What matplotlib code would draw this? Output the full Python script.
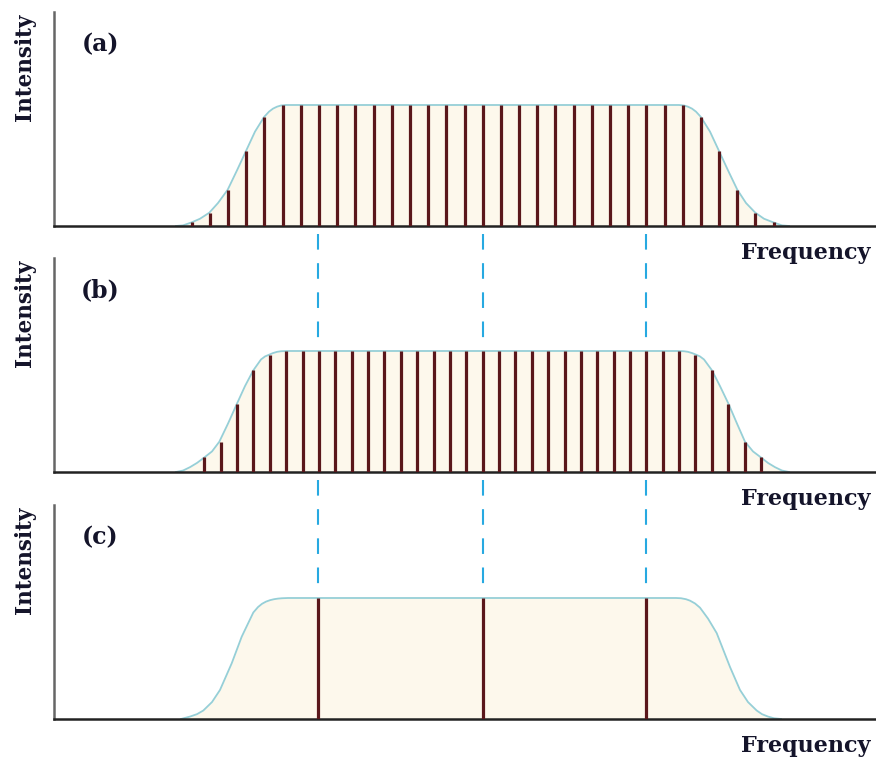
import numpy as np
import matplotlib
matplotlib.use("Agg")
import matplotlib.pyplot as plt

# frequency axis in reference pixel units, intensity normalised to the flat top
x_min, x_max = 54, 876

# (a) comb: 33 lines
comb_a_x = [191.7, 209.9, 228.1, 246.3, 264.4, 282.6, 300.8, 319.0, 337.2, 355.4, 373.5,
            391.7, 409.9, 428.1, 446.3, 464.5, 482.6, 500.8, 519.0, 537.2, 555.4, 573.5,
            591.7, 609.9, 628.1, 646.3, 664.5, 682.6, 700.8, 719.0, 737.2, 755.4, 773.5]
comb_a_h = [0.03, 0.11, 0.30, 0.62, 0.90] + [1.0] * 23 + [0.90, 0.62, 0.30, 0.11, 0.03]
env_a_x = [176, 183, 191.7, 200, 209.3, 218, 227.7, 237, 246, 255, 264, 269, 273, 277, 281, 286,
           679, 684, 688, 692, 696, 701, 710, 719, 728, 737.3, 746, 755.3, 764, 773.3, 782, 789]
env_a_y = [0.0, 0.005, 0.03, 0.06, 0.11, 0.19, 0.30, 0.46, 0.62, 0.78, 0.90, 0.945, 0.97, 0.986, 0.996, 1.0,
           1.0, 0.996, 0.986, 0.97, 0.945, 0.90, 0.78, 0.62, 0.46, 0.30, 0.19, 0.11, 0.06, 0.03, 0.005, 0.0]

# (b) comb: 35 lines
comb_b_x = [204.3, 220.7, 237.0, 253.4, 269.8, 286.2, 302.5, 318.9, 335.3, 351.6, 368.0,
            384.4, 400.8, 417.1, 433.5, 449.9, 466.2, 482.6, 499.0, 515.4, 531.7, 548.1,
            564.5, 580.8, 597.2, 613.6, 630.0, 646.3, 662.7, 679.1, 695.4, 711.8, 728.2,
            744.6, 760.9]
comb_b_h = [0.12, 0.25, 0.56, 0.84, 0.97] + [1.0] * 25 + [0.97, 0.84, 0.56, 0.25, 0.12]
env_b_x = [176, 183, 190, 197, 204.3, 212, 219.3, 228, 236.7, 245, 253.3, 261, 265, 269.3, 273, 277, 281, 287,
           678, 684, 688, 692, 696, 700, 704, 712, 720, 728.7, 737, 745, 753, 761, 768, 775, 782, 789]
env_b_y = [0.0, 0.012, 0.04, 0.075, 0.12, 0.17, 0.25, 0.40, 0.56, 0.71, 0.84, 0.93, 0.955, 0.97, 0.983, 0.993, 0.998, 1.0,
           1.0, 0.998, 0.993, 0.983, 0.97, 0.955, 0.93, 0.84, 0.71, 0.56, 0.40, 0.25, 0.17, 0.12, 0.075, 0.04, 0.012, 0.0]

# (c) three lines only
comb_c_x = [318.0, 482.6, 646.3]
comb_c_h = [1.0, 1.0, 1.0]
env_c_x = [181, 190, 197, 203.3, 212, 220, 231.7, 241.7, 253.3, 258, 262, 266, 270, 274, 278, 282, 288,
           676, 681, 686, 690, 695, 700, 708, 716.7, 730, 740, 748, 756.7, 762, 768, 774, 781]
env_c_y = [0.0, 0.02, 0.04, 0.07, 0.14, 0.24, 0.46, 0.68, 0.88, 0.925, 0.952, 0.97, 0.982, 0.99, 0.995, 0.998, 1.0,
           1.0, 0.998, 0.99, 0.978, 0.955, 0.92, 0.83, 0.71, 0.43, 0.24, 0.14, 0.07, 0.04, 0.02, 0.006, 0.0]

panels = [
    ("(a)", comb_a_x, comb_a_h, env_a_x, env_a_y),
    ("(b)", comb_b_x, comb_b_h, env_b_x, env_b_y),
    ("(c)", comb_c_x, comb_c_h, env_c_x, env_c_y),
]

# panel frames in reference pixels: (top, bottom)
frames = [(12, 226), (258, 472), (505, 719)]
dash_spans = [(234, 340), (480, 590)]

W, H = 876, 765
line_col = "#5a171b"
env_col = "#96cfd7"
fill_col = "#fdf8ec"
dash_col = "#27a9e1"
txt_col = "#14142a"
font = ["DejaVu Serif"]

fig = plt.figure(figsize=(W / 100, H / 100), dpi=100)
left = x_min / W
width = (x_max - x_min) / W

for (lab, cx, ch, ex, ey), (top, bot) in zip(panels, frames):
    ax = fig.add_axes([left, 1 - bot / H, width, (bot - top) / H])
    ax.fill_between(ex, ey, 0, color=fill_col, lw=0, zorder=1)
    ax.plot(ex, ey, color=env_col, lw=1.3, zorder=2)
    ax.vlines(cx, 0, ch, color=line_col, lw=2.3, zorder=3)
    ax.set_xlim(x_min, x_max)
    ax.set_ylim(0, (bot - top) / 121)
    ax.set_xticks([])
    ax.set_yticks([])
    for s in ("top", "right"):
        ax.spines[s].set_visible(False)
    ax.spines["left"].set_color("#666666")
    ax.spines["left"].set_linewidth(1.8)
    ax.spines["bottom"].set_color("#222222")
    ax.spines["bottom"].set_linewidth(1.8)
    ax.patch.set_alpha(0)

    ax.text(0.056, 0.85, lab, transform=ax.transAxes, ha="center", va="center",
            fontsize=17, fontweight="bold", family=font, color=txt_col)
    ax.text(-0.035, 0.743, "Intensity", transform=ax.transAxes, rotation=90,
            ha="center", va="center", fontsize=15.5, fontweight="bold", family=font,
            color=txt_col)
    ax.text(0.993, -0.125, "Frequency", transform=ax.transAxes, ha="right",
            va="center", fontsize=16, fontweight="bold", family=font, color=txt_col)

# dashed guides linking the three panels
over = fig.add_axes([left, 0, width, 1])
over.set_xlim(x_min, x_max)
over.set_ylim(H, 0)
over.axis("off")
for y0, y1 in dash_spans:
    over.vlines(comb_c_x, y0, y1, color=dash_col, lw=1.5, linestyles=(0, (7.5, 6.5)))

fig.savefig("out.png", dpi=100)
